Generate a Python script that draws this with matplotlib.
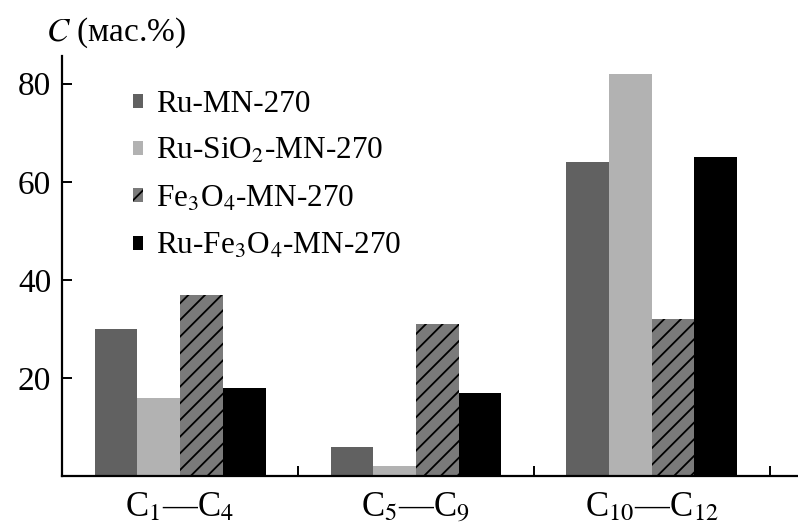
import numpy as np
import matplotlib
matplotlib.use('Agg')
import matplotlib.pyplot as plt
from matplotlib.patches import Patch

plt.rcParams['font.family'] = ['Liberation Serif', 'DejaVu Serif']
plt.rcParams['mathtext.fontset'] = 'stix'
plt.rcParams['hatch.linewidth'] = 1.3

# data
groups = ['C$_1$\u2014C$_4$', 'C$_5$\u2014C$_9$', 'C$_{10}$\u2014C$_{12}$']
series = ['Ru-MN-270', 'Ru-SiO$_2$-MN-270', 'Fe$_3$O$_4$-MN-270', 'Ru-Fe$_3$O$_4$-MN-270']
ru_mn = [30, 6, 64]
ru_sio2 = [16, 2, 82]
fe3o4 = [37, 31, 32]
ru_fe3o4 = [18, 17, 65]
values = [ru_mn, ru_sio2, fe3o4, ru_fe3o4]

colors = ['#616161', '#b2b2b2', '#7a7a7a', '#000000']
hatches = [None, None, '//', None]

fig = plt.figure(figsize=(7.98, 5.26), dpi=100)
ax = fig.add_axes([0.078, 0.095, 0.922, 0.799])

x = np.arange(len(groups))
w = 0.181
for i in range(4):
    ax.bar(x + (i - 1.5) * w, values[i], width=w, color=colors[i],
           hatch=hatches[i], edgecolor='black' if hatches[i] else colors[i],
           linewidth=0)

ax.set_xlim(-0.5, 2.62)
ax.set_ylim(0, 85.7)
ax.spines['top'].set_visible(False)
ax.spines['right'].set_visible(False)
ax.spines['left'].set_linewidth(1.6)
ax.spines['bottom'].set_linewidth(1.6)

ax.set_yticks([20, 40, 60, 80])
ax.tick_params(axis='y', direction='in', length=7, width=1.4, labelsize=24, pad=8)
ax.set_xticks([0.5, 1.5, 2.5])
ax.set_xticklabels([])
ax.tick_params(axis='x', which='major', direction='in', length=7, width=1.4)
ax.set_xticks(x, minor=True)
ax.set_xticklabels(groups, minor=True, fontsize=25)
ax.tick_params(axis='x', which='minor', length=0, pad=11)

fig.text(0.058, 0.937, '$C$ (мас.%)', fontsize=24, ha='left', va='center')

handles = [Patch(facecolor=colors[i], hatch=hatches[i], edgecolor='black' if hatches[i] else colors[i],
                 linewidth=0) for i in range(4)]
ax.legend(handles, series, loc='upper left', bbox_to_anchor=(0.167, 0.829),
          bbox_transform=fig.transFigure, frameon=False, fontsize=22.5,
          handlelength=0.32, handleheight=0.32, handletextpad=0.4,
          labelspacing=0.58, borderpad=0, borderaxespad=0)

fig.savefig('out.png', dpi=100)
